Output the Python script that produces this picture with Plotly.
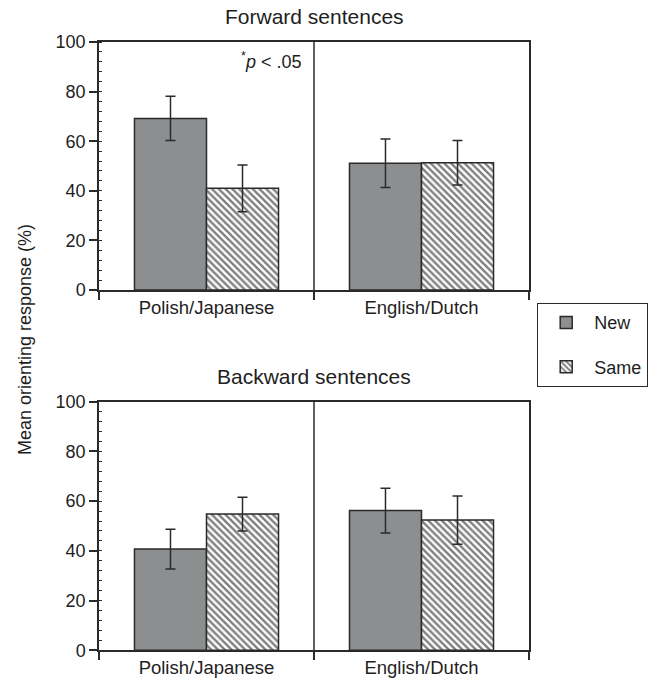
import plotly.graph_objects as go

categories = ["Polish/Japanese", "English/Dutch"]
series_names = ["New", "Same"]

forward_new = [69.2, 51.1]
forward_new_err = [8.9, 9.8]
forward_same = [41.0, 51.3]
forward_same_err = [9.4, 9.0]

backward_new = [40.7, 56.2]
backward_new_err = [8.0, 9.0]
backward_same = [54.8, 52.4]
backward_same_err = [6.8, 9.7]

y_ticks = [0, 20, 40, 60, 80, 100]

W, H = 653, 684
FONT = "Liberation Sans, Arial, sans-serif"
GRAY = "#8d8e90"
EDGE = "#2a2a2a"
TXT = "#1e1e1e"

def px_x(p):
    return p / W

def px_y(p):
    return 1 - p / H

xpos = list(range(len(categories)))

fig = go.Figure()

def add_pair(new_vals, new_err, same_vals, same_err, xa, ya, show):
    fig.add_trace(go.Bar(
        x=xpos, y=new_vals, name=series_names[0], xaxis=xa, yaxis=ya,
        marker=dict(color=GRAY, line=dict(color=EDGE, width=1.5)),
        error_y=dict(type="data", array=new_err, visible=True, color=EDGE, thickness=1.5, width=5),
        showlegend=show, legendgroup="new",
    ))
    fig.add_trace(go.Bar(
        x=xpos, y=same_vals, name=series_names[1], xaxis=xa, yaxis=ya,
        marker=dict(color="white", line=dict(color=EDGE, width=1.5),
                    pattern=dict(shape="\\", fgcolor="#000000", bgcolor="white", size=4.8, solidity=0.5)),
        error_y=dict(type="data", array=same_err, visible=True, color=EDGE, thickness=1.5, width=5),
        showlegend=show, legendgroup="same",
    ))

add_pair(forward_new, forward_new_err, forward_same, forward_same_err, "x", "y", True)
add_pair(backward_new, backward_new_err, backward_same, backward_same_err, "x2", "y2", False)

xdom = [px_x(99), px_x(529)]
top_dom = [px_y(290), px_y(42)]
bot_dom = [px_y(650.3), px_y(401.7)]

xaxis_common = dict(
    range=[-0.5, 1.5], tickvals=xpos, ticktext=categories, ticks="",
    showline=True, linecolor=EDGE, linewidth=1.5, mirror=True,
    showgrid=False, zeroline=False, fixedrange=True, automargin=False,
    tickfont=dict(family=FONT, size=18.5, color=TXT),
    minor=dict(tickvals=[-0.5, 0.5, 1.5], ticks="outside", ticklen=8, tickcolor=EDGE, tickwidth=1.5),
)
yaxis_common = dict(
    range=[0, 100], tickvals=y_ticks, ticks="outside", ticklen=8, tickcolor=EDGE, tickwidth=1.5,
    showline=True, linecolor=EDGE, linewidth=1.5, mirror=True,
    showgrid=False, zeroline=False, fixedrange=True, automargin=False,
    tickfont=dict(family=FONT, size=18, color=TXT),
    minor=dict(dtick=4, ticks="inside", ticklen=3, tickcolor=EDGE, tickwidth=1),
)

fig.update_layout(
    width=W, height=H,
    margin=dict(l=0, r=0, t=0, b=0, pad=0),
    paper_bgcolor="white", plot_bgcolor="white",
    barmode="group", bargap=0.33, bargroupgap=0,
    font=dict(family=FONT, size=18, color=TXT),
    xaxis=dict(domain=xdom, anchor="y", **xaxis_common),
    yaxis=dict(domain=top_dom, anchor="x", **yaxis_common),
    xaxis2=dict(domain=xdom, anchor="y2", **xaxis_common),
    yaxis2=dict(domain=bot_dom, anchor="x2", **yaxis_common),
    legend=dict(
        x=px_x(537), y=px_y(303), xanchor="left", yanchor="top",
        bordercolor=EDGE, borderwidth=1.2, bgcolor="white",
        font=dict(family=FONT, size=18, color=TXT),
        tracegroupgap=18, itemwidth=46,
    ),
)

# divider lines between categories
for xa, ya in [("x", "y"), ("x2", "y2")]:
    fig.add_shape(type="line", xref=xa, yref=f"{ya} domain", x0=0.5, x1=0.5, y0=0, y1=1,
                  line=dict(color=EDGE, width=1.5))

fig.add_annotation(text="Forward sentences", xref="paper", yref="paper",
                   x=px_x(314), y=px_y(16), xanchor="center", yanchor="middle", showarrow=False,
                   font=dict(family=FONT, size=21, color=TXT))
fig.add_annotation(text="Backward sentences", xref="paper", yref="paper",
                   x=px_x(314), y=px_y(376), xanchor="center", yanchor="middle", showarrow=False,
                   font=dict(family=FONT, size=21, color=TXT))
fig.add_annotation(text="<sup>*</sup><i>p</i> &lt; .05", xref="x domain", yref="y domain",
                   x=0.475, y=0.925, xanchor="right", yanchor="middle", showarrow=False,
                   font=dict(family=FONT, size=18, color=TXT))
fig.add_annotation(text="Mean orienting response (%)", xref="paper", yref="paper",
                   x=px_x(25), y=px_y(340), xanchor="center", yanchor="middle",
                   textangle=-90, showarrow=False,
                   font=dict(family=FONT, size=18, color=TXT))

fig.write_html("out.html", config={"displayModeBar": False},
               post_script="document.body.style.margin='0';")
